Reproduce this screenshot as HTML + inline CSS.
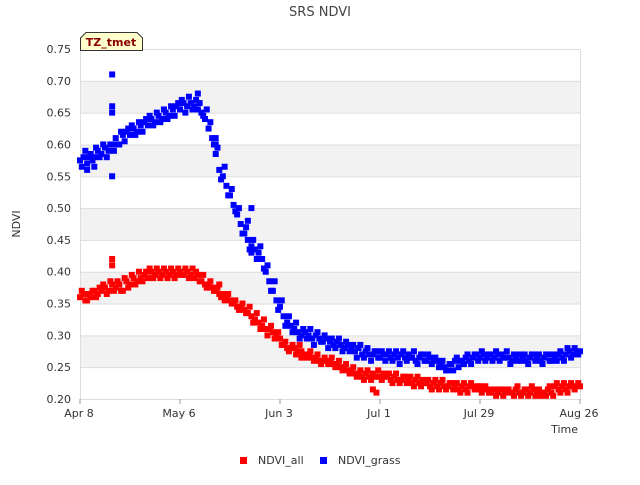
<!DOCTYPE html>
<html><head><meta charset="utf-8"><style>
body{margin:0;background:#fff;font-family:"Liberation Sans","DejaVu Sans",sans-serif;}
svg text{font-family:"DejaVu Sans","Liberation Sans",sans-serif;}
</style></head><body>
<svg id="c" width="640" height="480" xmlns="http://www.w3.org/2000/svg">
<rect width="640" height="480" fill="#fff"/>
<text x="320" y="16" text-anchor="middle" font-size="13" fill="#444">SRS NDVI</text>
<g id="grid"></g>
<g id="yt"></g>
<g id="xt"></g>
<g id="pts"></g>
<text x="20" y="224" transform="rotate(-90 20 224)" text-anchor="middle" font-size="11" fill="#333">NDVI</text>
<text x="578" y="433" text-anchor="end" font-size="11" fill="#333">Time</text>
<g>
<path d="M80.5,50.5 L80.5,38 L86,32.5 L137,32.5 L142.5,38 L142.5,50.5 Z" fill="#ffffcc" stroke="#333"/>
<text x="111" y="46" text-anchor="middle" font-size="11" font-weight="bold" fill="#8b0000">TZ_tmet</text>
</g>
<g><rect x="240" y="457" width="7" height="7" fill="#f00"/><text x="258" y="464" font-size="11" fill="#333">NDVI_all</text></g>
<g><rect x="320" y="457" width="7" height="7" fill="#00f"/><text x="338" y="464" font-size="11" fill="#333">NDVI_grass</text></g>
</svg>
<script>
const yTicks=[0.20,0.25,0.30,0.35,0.40,0.45,0.50,0.55,0.60,0.65,0.70,0.75];
const xTickDays=[0,28,56,84,112,140];
const xTickLabels=["Apr 8","May 6","Jun 3","Jul 1","Jul 29","Aug 26"];
const grass=[.575,.58,.57,.585,.58,.59,.585,.595,.59,.60,
.61,.60,.615,.62,.615,.625,.62,.63,.635,.63,
.64,.635,.645,.64,.65,.645,.655,.66,.655,.665,
.66,.665,.66,.655,.65,.64,.625,.61,.585,.56,
.55,.535,.52,.505,.49,.475,.46,.45,.44,.435,
.43,.42,.40,.385,.37,.355,.345,.33,.32,.315,
.31,.305,.30,.305,.30,.295,.30,.295,.29,.295,
.29,.285,.29,.285,.28,.285,.28,.275,.28,.27,
.275,.27,.27,.275,.265,.27,.27,.265,.27,.265,
.27,.265,.27,.265,.26,.265,.27,.26,.265,.26,
.26,.255,.25,.245,.255,.26,.25,.26,.265,.26,
.265,.27,.265,.27,.265,.27,.265,.27,.27,.265,
.265,.26,.265,.27,.265,.26,.265,.27,.265,.26,
.265,.27,.26,.265,.27,.265,.27,.275,.27,.275,.275];
const grass2=[.565,.59,.58,.575,.595,.58,.60,.58,.60,.59,
.60,.62,.605,.625,.63,.615,.635,.62,.64,.645,
.63,.65,.635,.655,.64,.66,.645,.665,.67,.65,
.675,.655,.67,.665,.645,.655,.635,.60,.595,.545,
.565,.52,.53,.495,.50,.46,.47,.435,.45,.42,
.44,.405,.41,.37,.385,.34,.355,.315,.33,.305,
.32,.295,.31,.295,.31,.285,.305,.29,.30,.28,
.295,.28,.295,.275,.29,.275,.285,.265,.285,.265,
.28,.26,.275,.265,.275,.26,.275,.26,.275,.255,
.275,.26,.265,.275,.255,.27,.26,.27,.255,.265,
.25,.26,.245,.255,.245,.265,.26,.255,.27,.255,
.27,.26,.275,.26,.27,.26,.275,.26,.265,.275,
.255,.27,.26,.26,.27,.255,.27,.26,.27,.255,
.27,.26,.27,.26,.275,.26,.28,.265,.28,.27,.27];
const all=[.36,.365,.355,.36,.37,.365,.37,.375,.37,.38,
.375,.38,.37,.385,.38,.39,.385,.39,.395,.39,
.40,.395,.40,.395,.40,.395,.40,.395,.40,.395,
.40,.395,.39,.395,.385,.38,.38,.375,.37,.365,
.365,.36,.355,.35,.345,.345,.34,.335,.33,.325,
.32,.315,.31,.31,.305,.30,.295,.285,.28,.28,
.28,.275,.275,.27,.27,.265,.265,.26,.26,.26,
.26,.255,.255,.25,.25,.245,.245,.24,.24,.235,
.24,.235,.24,.235,.235,.24,.235,.23,.235,.23,
.23,.235,.23,.225,.23,.225,.23,.225,.22,.225,
.22,.225,.22,.22,.225,.22,.215,.22,.215,.22,
.22,.215,.22,.215,.215,.21,.215,.21,.215,.21,
.215,.21,.215,.21,.21,.215,.21,.215,.21,.205,
.21,.215,.21,.22,.215,.22,.215,.22,.22,.22,.22];
const all2=[.37,.355,.365,.37,.36,.375,.38,.365,.385,.37,
.385,.37,.39,.375,.395,.38,.40,.385,.40,.405,
.39,.405,.39,.405,.39,.405,.39,.405,.395,.405,
.39,.405,.40,.385,.395,.375,.385,.37,.375,.36,
.355,.365,.35,.355,.34,.35,.335,.345,.32,.335,
.31,.325,.30,.315,.295,.305,.285,.29,.275,.285,
.27,.285,.27,.265,.275,.26,.27,.255,.265,.255,
.265,.25,.26,.245,.255,.24,.25,.235,.245,.23,
.245,.23,.235,.245,.23,.235,.24,.225,.24,.225,
.235,.225,.235,.22,.235,.22,.225,.23,.215,.23,
.215,.23,.215,.225,.215,.225,.21,.225,.21,.225,
.215,.22,.21,.22,.21,.215,.205,.215,.205,.215,
.21,.205,.22,.205,.215,.205,.22,.205,.215,.21,
.205,.22,.205,.225,.21,.225,.21,.225,.215,.225,.215];
const grassOutDays=[9,9,9,9,47,48,48,38,38,33,2,4];
const grassOutVals=[.71,.66,.65,.55,.48,.50,.43,.61,.60,.68,.56,.565];
const allOutDays=[9,9,62,82,83,39];
const allOutVals=[.42,.41,.265,.215,.21,.38];
const X0=80,X1=580,Y0=399,Y1=49;
const xs=d=>X0+(d-0)/(140)*(X1-X0);
const ys=v=>Y0-(v-0.20)/(0.55)*(Y0-Y1);
const NS="http://www.w3.org/2000/svg";
function mk(t,a,p){const e=document.createElementNS(NS,t);for(const k in a)e.setAttribute(k,a[k]);p.appendChild(e);return e;}
const grid=document.getElementById('grid');
for(let i=0;i<yTicks.length-1;i++){
 if(i%2===1){const r=mk('rect',{x:X0,y:ys(yTicks[i+1]),width:X1-X0,height:ys(yTicks[i])-ys(yTicks[i+1]),fill:'#f2f2f2'},grid);
 
 }
}
yTicks.forEach(v=>{const l=mk('line',{x1:X0,x2:X1,y1:ys(v)+0.5,y2:ys(v)+0.5,stroke:'#ddd'},grid);
 
 });
mk('rect',{x:X0+0.5,y:Y1+0.5,width:X1-X0,height:Y0-Y1,fill:'none',stroke:'#ddd'},grid);
const yt=document.getElementById('yt');
yTicks.forEach(v=>{const t=mk('text',{x:71,y:ys(v)+4,'text-anchor':'end','font-size':11,fill:'#333'},yt);t.textContent=v.toFixed(2);
 
 });
const xt=document.getElementById('xt');
xTickDays.forEach((d,i)=>{mk('line',{x1:xs(d),x2:xs(d),y1:Y0,y2:Y0+5,stroke:'#999'},xt);
 const t=mk('text',{x:xs(d)-1,y:417,'text-anchor':'middle','font-size':11,fill:'#333'},xt);t.textContent=xTickLabels[i];
 
 });
const pts=document.getElementById('pts');
function dot(d,v,c,n){const r=mk('rect',{x:xs(d)-3,y:ys(v)-3,width:6,height:6,fill:c},pts);
 
 }
all.forEach((v,d)=>{dot(d,v,'#f00','ndvi-all-point');});
all2.forEach((v,d)=>{if(d<140)dot(d+0.5,v,'#f00','ndvi-all-point');});
allOutDays.forEach((d,i)=>dot(d,allOutVals[i],'#f00','ndvi-all-point'));
grass.forEach((v,d)=>{dot(d,v,'#00f','ndvi-grass-point');});
grass2.forEach((v,d)=>{if(d<140)dot(d+0.5,v,'#00f','ndvi-grass-point');});
grassOutDays.forEach((d,i)=>dot(d,grassOutVals[i],'#00f','ndvi-grass-point'));
</script>
</body></html>
